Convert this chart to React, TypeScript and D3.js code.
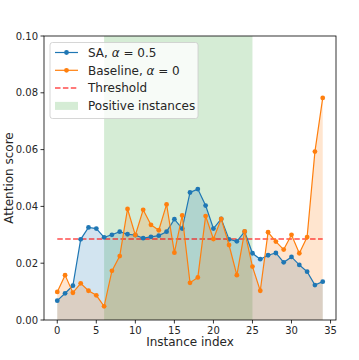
import React from "react";
import * as d3 from "d3";

// values
const saScores = [
  0.0068, 0.0094, 0.0121, 0.0284, 0.0326, 0.0322, 0.0291, 0.03, 0.0311, 0.0302,
  0.0299, 0.0288, 0.0293, 0.0297, 0.0311, 0.0355, 0.0322, 0.0449, 0.0461, 0.0403,
  0.0322, 0.0356, 0.0284, 0.0277, 0.0311, 0.0235, 0.0214, 0.0228, 0.0236, 0.0203,
  0.0222, 0.0194, 0.017, 0.0123, 0.0135,
];
const baselineScores = [
  0.0099, 0.0158, 0.0096, 0.0129, 0.0103, 0.0087, 0.0048, 0.0173, 0.0225, 0.0391,
  0.0299, 0.0388, 0.0335, 0.0316, 0.0407, 0.0237, 0.0368, 0.0131, 0.015, 0.0366,
  0.0285, 0.0356, 0.0264, 0.0158, 0.0312, 0.0188, 0.0103, 0.0309, 0.0276, 0.0248,
  0.03, 0.0235, 0.0292, 0.0593, 0.0782,
];
const threshold = 0.0285;
const positiveRange = [6, 25];
const xTicks = [0, 5, 10, 15, 20, 25, 30, 35];
const yTicks = [0, 0.02, 0.04, 0.06, 0.08, 0.1];

const W = 359;
const H = 360;
const left = 44;
const right = 336;
const top = 36;
const bottom = 320;

const BLUE = "#1f77b4";
const ORANGE = "#ff7f0e";
const GREEN = "#2ca02c";

const App = () => {
  const n = saScores.length;
  const x = d3.scaleLinear().domain([-1.7, n - 1 + 1.7]).range([left, right]);
  const y = d3.scaleLinear().domain([0, 0.1]).range([bottom, top]);

  const line = d3
    .line<number>()
    .x((d, i) => x(i))
    .y((d) => y(d));
  const area = d3
    .area<number>()
    .x((d, i) => x(i))
    .y0(y(0))
    .y1((d) => y(d));

  const font = "DejaVu Sans, sans-serif";

  const series = [
    { data: saScores, color: BLUE },
    { data: baselineScores, color: ORANGE },
  ];

  const legendRows = [
    { label: "SA, ", alpha: "0.5", kind: "line", color: BLUE },
    { label: "Baseline, ", alpha: "0", kind: "line", color: ORANGE },
    { label: "Threshold", kind: "dash", color: "red" },
    { label: "Positive instances", kind: "patch", color: GREEN },
  ];

  return (
    <svg width={W} height={H} style={{ position: "absolute", left: 0, top: 0 }}>
      <rect width={W} height={H} fill="white" />
      <rect
        x={x(positiveRange[0])}
        y={top}
        width={x(positiveRange[1]) - x(positiveRange[0])}
        height={bottom - top}
        fill={GREEN}
        opacity={0.2}
      />
      {series.map((s, k) => (
        <path key={"a" + k} d={area(s.data) || ""} fill={s.color} opacity={0.2} />
      ))}
      <line
        x1={x(0)}
        x2={x(n - 1)}
        y1={y(threshold)}
        y2={y(threshold)}
        stroke="red"
        strokeOpacity={0.7}
        strokeWidth={1.5}
        strokeDasharray="5.5,2.4"
      />
      {series.map((s, k) => (
        <g key={"l" + k}>
          <path d={line(s.data) || ""} fill="none" stroke={s.color} strokeWidth={1.2} />
          {s.data.map((d, i) => (
            <circle key={i} cx={x(i)} cy={y(d)} r={2.4} fill={s.color} />
          ))}
        </g>
      ))}

      {/* axes frame */}
      <rect x={left} y={top} width={right - left} height={bottom - top} fill="none" stroke="black" strokeWidth={0.8} />

      {xTicks.map((t) => (
        <g key={"x" + t} transform={`translate(${x(t)},${bottom})`}>
          <line y2={3.5} stroke="black" strokeWidth={0.8} />
          <text y={14} textAnchor="middle" fontSize={10} fontFamily={font} fill="#262626">
            {t}
          </text>
        </g>
      ))}
      {yTicks.map((t) => (
        <g key={"y" + t} transform={`translate(${left},${y(t)})`}>
          <line x2={-3.5} stroke="black" strokeWidth={0.8} />
          <text x={-6} dy="0.35em" textAnchor="end" fontSize={10} fontFamily={font} fill="#262626">
            {d3.format(".2f")(t)}
          </text>
        </g>
      ))}

      <text x={(left + right) / 2} y={345.5} textAnchor="middle" fontSize={12} fontFamily={font} fill="#262626">
        Instance index
      </text>
      <text
        transform={`translate(13,${(top + bottom) / 2}) rotate(-90)`}
        textAnchor="middle"
        fontSize={12}
        fontFamily={font}
        fill="#262626"
      >
        Attention score
      </text>

      {/* legend */}
      <rect x={50} y={42.5} width={148} height={76} rx={2.5} fill="white" fillOpacity={0.8} stroke="#cccccc" strokeWidth={0.8} />
      {legendRows.map((r, i) => {
        const cy = 52.5 + i * 17.8;
        return (
          <g key={r.label}>
            {r.kind === "line" && (
              <g>
                <line x1={55} x2={78} y1={cy} y2={cy} stroke={r.color} strokeWidth={1.2} />
                <circle cx={66.5} cy={cy} r={2.4} fill={r.color} />
              </g>
            )}
            {r.kind === "dash" && (
              <line x1={55} x2={78} y1={cy} y2={cy} stroke={r.color} strokeOpacity={0.7} strokeWidth={1.5} strokeDasharray="5.5,2.4" />
            )}
            {r.kind === "patch" && (
              <rect x={55} y={cy - 4} width={23} height={8} fill={r.color} opacity={0.2} />
            )}
            <text x={88} y={cy} dy="0.35em" fontSize={12} fontFamily={font} fill="#262626">
              {r.label}
              {r.alpha !== undefined && (
                <>
                  <tspan fontStyle="italic">α</tspan>
                  {" = " + r.alpha}
                </>
              )}
            </text>
          </g>
        );
      })}
    </svg>
  );
};

export default App;
